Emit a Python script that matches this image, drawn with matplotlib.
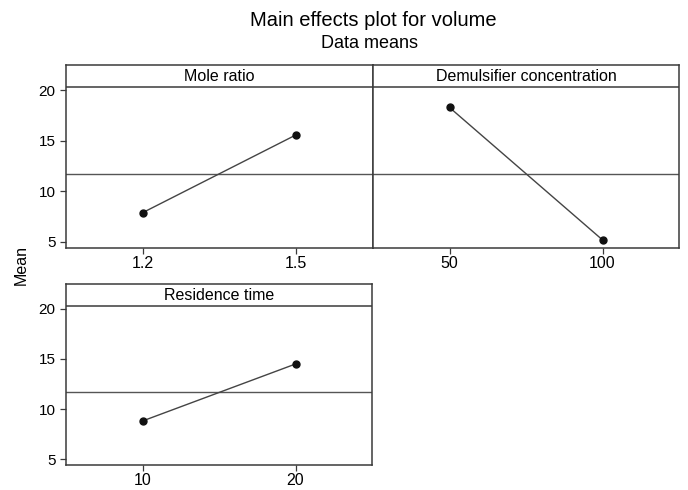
import matplotlib
matplotlib.use("Agg")
import matplotlib.pyplot as plt
import numpy as np

plt.rcParams['font.family'] = ['Liberation Sans', 'DejaVu Sans']

# factor names, levels and level means
factors = ['Mole ratio', 'Demulsifier concentration', 'Residence time']
levels = [[1.2, 1.5], [50, 100], [10, 20]]
level_labels = [['1.2', '1.5'], ['50', '100'], ['10', '20']]
means = [[7.9, 15.6], [18.3, 5.2], [8.8, 14.5]]
grand_mean = 11.72
yticks = [5, 10, 15, 20]

W, H = 688, 490
fig = plt.figure(figsize=(W / 100, H / 100), dpi=100)

# panel boxes in pixels: left, top, right, bottom
boxes = [(66, 65, 373, 248), (373, 65, 679, 248), (66, 284, 372, 465)]
ylo, yhi, strip_y = 4.4, 22.5, 20.3
frame_col = '#3a3a3a'

for i, (l, t, r, b) in enumerate(boxes):
    ax = fig.add_axes([l / W, (H - b) / H, (r - l) / W, (b - t) / H])
    x = levels[i]
    span = x[1] - x[0]
    ax.plot(x, means[i], color='#444444', lw=1.0, marker='o', ms=5,
            mfc='#111111', mec='#111111', zorder=3)
    ax.axhline(grand_mean, color='#555555', lw=1.0)
    ax.axhline(strip_y, color=frame_col, lw=1.1)
    ax.text(0.5, (strip_y + yhi) / 2, factors[i], transform=ax.get_yaxis_transform(),
            ha='center', va='center', fontsize=11.5)
    ax.set_xlim(x[0] - span / 2, x[1] + span / 2)
    ax.set_ylim(ylo, yhi)
    ax.set_xticks(x)
    ax.set_xticklabels(level_labels[i])
    if i == 1:
        ax.set_yticks([])
    else:
        ax.set_yticks(yticks)
    for s in ax.spines.values():
        s.set_color(frame_col)
        s.set_linewidth(1.1)
    ax.tick_params(axis='x', direction='out', length=4, width=0.9, color=frame_col,
                   labelsize=11.5, pad=2)
    ax.tick_params(axis='y', direction='out', length=4, width=0.9, color=frame_col,
                   labelsize=11, pad=3.5)

fig.text(373 / W, 1 - 20 / H, 'Main effects plot for volume', ha='center',
         va='center', fontsize=14.5)
fig.text(370 / W, 1 - 43 / H, 'Data means', ha='center', va='center', fontsize=13)
fig.text(21 / W, 1 - 265 / H, 'Mean', rotation=90, ha='center', va='center',
         fontsize=11.5)

fig.savefig('out.png', dpi=100)
